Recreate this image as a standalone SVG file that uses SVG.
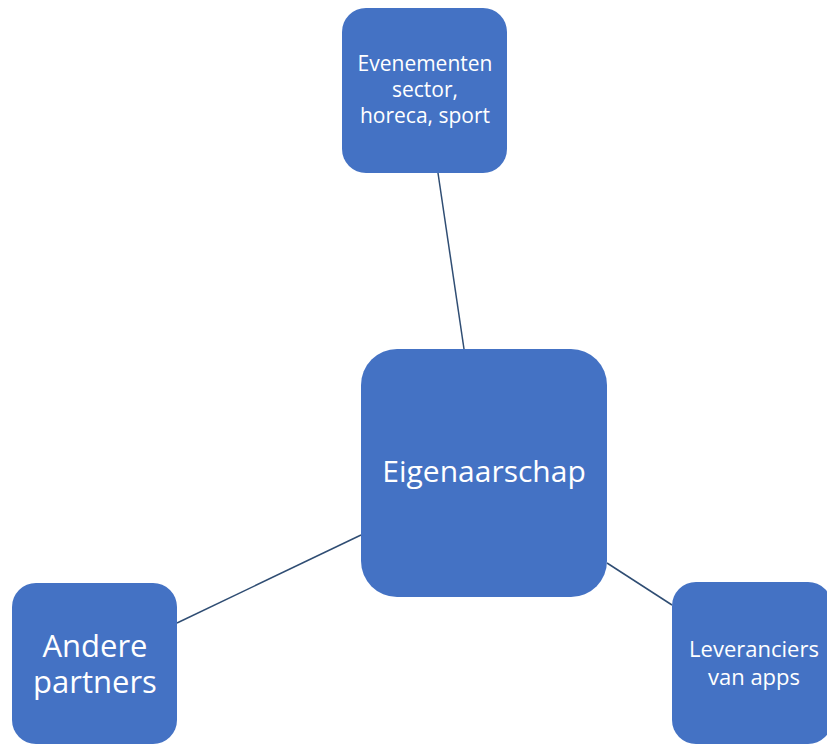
<svg xmlns="http://www.w3.org/2000/svg" width="827" height="745" viewBox="0 0 827 745">
<style>
.box{fill:#4472C4;}
.lbl{fill:#ffffff;font-family:"Open Sans","Liberation Sans",sans-serif;text-anchor:middle;}
.edge{stroke:#2F4D73;stroke-width:1.5;fill:none;}
</style>
<rect width="827" height="745" fill="#ffffff"/>
<g id="connectors">
<line class="edge" x1="438" y1="173" x2="464" y2="349"/>
<line class="edge" x1="361" y1="535" x2="177" y2="623"/>
<line class="edge" x1="607" y1="563" x2="672" y2="605"/>
</g>
<g id="node-evenementen">
<rect class="box" x="342" y="8" width="165" height="165" rx="24"/>
<text class="lbl" font-size="21"><tspan x="425" y="71">Evenementen</tspan><tspan x="425" y="97">sector,</tspan><tspan x="425" y="123">horeca, sport</tspan></text>
</g>
<g id="node-eigenaarschap">
<rect class="box" x="361" y="349" width="246" height="248" rx="36"/>
<text class="lbl" font-size="30" x="484" y="482">Eigenaarschap</text>
</g>
<g id="node-andere">
<rect class="box" x="12" y="583" width="165" height="161" rx="24"/>
<text class="lbl" font-size="31"><tspan x="95" y="657">Andere</tspan><tspan x="95" y="693">partners</tspan></text>
</g>
<g id="node-leveranciers">
<rect class="box" x="672" y="582" width="160" height="162" rx="24"/>
<text class="lbl" font-size="22"><tspan x="754" y="657">Leveranciers</tspan><tspan x="754" y="685">van apps</tspan></text>
</g>
</svg>
